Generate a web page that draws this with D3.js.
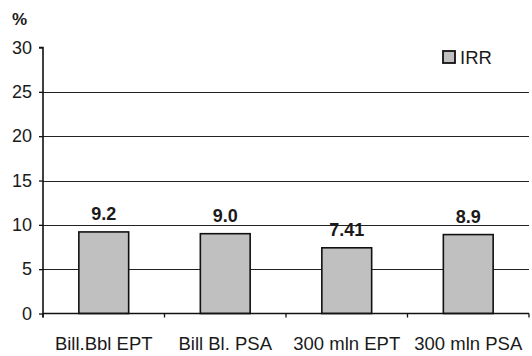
<!DOCTYPE html>
<html>
<head>
<meta charset="utf-8">
<script src="https://cdn.jsdelivr.net/npm/d3@7"></script>
<style>
  html, body { margin: 0; padding: 0; background: #fff; }
  svg { display: block; font-family: Arial, "Liberation Sans", sans-serif; }
</style>
</head>
<body>
<svg id="chart" width="532" height="356"></svg>
<script>
// IRR by financing scenario
const categories = ["Bill.Bbl EPT", "Bill Bl. PSA", "300 mln EPT", "300 mln PSA"];
const irrValues = [9.2, 9.0, 7.41, 8.9];
const irrLabels = ["9.2", "9.0", "7.41", "8.9"];
const yTicks = [0, 5, 10, 15, 20, 25, 30];
const seriesName = "IRR";
const unitLabel = "%";

const svg = d3.select("#chart");
const margin = { left: 43, right: 3, top: 47.5, bottom: 42.5 };
const W = 532, H = 356;

const x = d3.scaleBand()
  .domain(categories)
  .range([margin.left, W - margin.right])
  .paddingInner(0.59)
  .paddingOuter(0.295);

const y = d3.scaleLinear()
  .domain([0, 30])
  .range([H - margin.bottom, margin.top]);

// horizontal gridlines
svg.append("g")
  .selectAll("line")
  .data(yTicks.filter(t => t > 0 && t < 30))
  .join("line")
  .attr("x1", margin.left)
  .attr("x2", W - margin.right)
  .attr("y1", d => Math.round(y(d)) + 0.5)
  .attr("y2", d => Math.round(y(d)) + 0.5)
  .attr("stroke", "#222")
  .attr("stroke-width", 1);

// bars
svg.append("g")
  .selectAll("rect")
  .data(irrValues)
  .join("rect")
  .attr("x", (d, i) => x(categories[i]))
  .attr("width", x.bandwidth())
  .attr("y", d => y(d))
  .attr("height", d => y(0) - y(d))
  .attr("fill", "#c0c0c0")
  .attr("stroke", "#111")
  .attr("stroke-width", 1.6);

// value labels
svg.append("g")
  .selectAll("text")
  .data(irrValues)
  .join("text")
  .attr("x", (d, i) => x(categories[i]) + x.bandwidth() / 2)
  .attr("y", d => y(d) - 12)
  .attr("text-anchor", "middle")
  .attr("font-size", 18)
  .attr("font-weight", "bold")
  .attr("fill", "#1a1a1a")
  .text((d, i) => irrLabels[i]);

// y axis
const yAxis = d3.axisLeft(y).tickValues(yTicks).tickSize(4).tickPadding(7).tickFormat(d3.format("d"));
const gy = svg.append("g")
  .attr("transform", `translate(${margin.left},0)`)
  .call(yAxis);
gy.select(".domain").attr("stroke", "#111").attr("stroke-width", 1.6).attr("d", `M-4,${y(30)}H0V${y(0) + 4}`);
gy.selectAll(".tick line").attr("stroke", "#111").attr("stroke-width", 1.3);
gy.selectAll(".tick text").attr("font-size", 18).attr("fill", "#1a1a1a").attr("font-family", "Arial, 'Liberation Sans', sans-serif");

// x axis with ticks at band boundaries
const boundaries = categories.map(c => x(c) - x.step() * x.paddingInner() / 2).concat([W - margin.right]);
const gx = svg.append("g");
gx.append("line")
  .attr("x1", margin.left).attr("x2", W - margin.right)
  .attr("y1", y(0)).attr("y2", y(0))
  .attr("stroke", "#111").attr("stroke-width", 1.6);
gx.selectAll("line.tk")
  .data(boundaries)
  .join("line")
  .attr("class", "tk")
  .attr("x1", d => d).attr("x2", d => d)
  .attr("y1", y(0)).attr("y2", y(0) + 4)
  .attr("stroke", "#111").attr("stroke-width", 1.3);
gx.selectAll("text")
  .data(categories)
  .join("text")
  .attr("x", d => x(d) + x.bandwidth() / 2)
  .attr("y", 350)
  .attr("text-anchor", "middle")
  .attr("font-size", 18.5)
  .attr("fill", "#1a1a1a")
  .text(d => d);

// unit label
svg.append("text")
  .attr("x", 12)
  .attr("y", 25)
  .attr("font-size", 17)
  .attr("font-weight", "bold")
  .attr("fill", "#1a1a1a")
  .text(unitLabel);

// legend
const lg = svg.append("g").attr("transform", "translate(443,51)");
lg.append("rect")
  .attr("width", 12).attr("height", 12)
  .attr("fill", "#c0c0c0").attr("stroke", "#111").attr("stroke-width", 1.8);
lg.append("text")
  .attr("x", 17).attr("y", 12.5)
  .attr("font-size", 18.5)
  .attr("fill", "#1a1a1a")
  .text(seriesName);
</script>
</body>
</html>
